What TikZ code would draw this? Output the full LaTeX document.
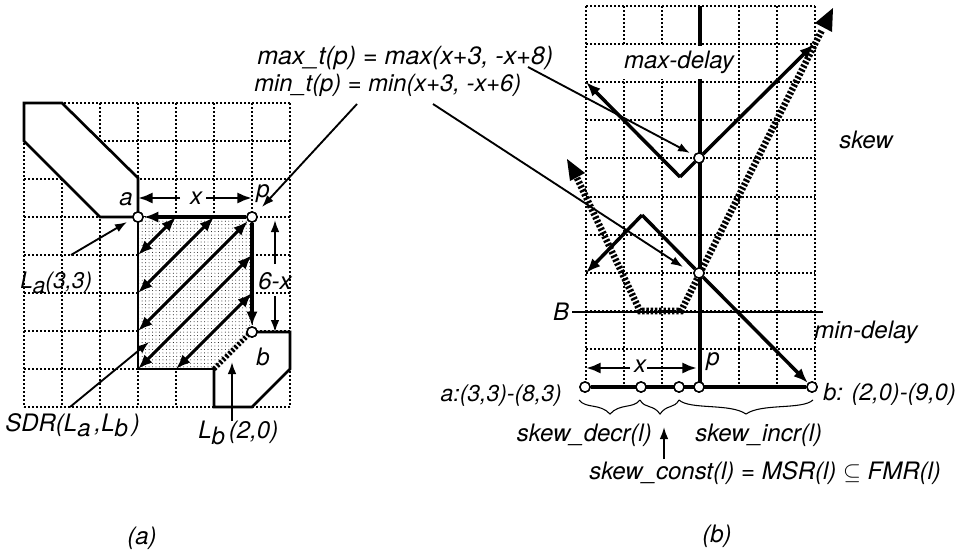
\documentclass[tikz,border=0pt]{standalone}
\usepackage{fontspec}
\setmainfont{TeX Gyre Heros}
\usetikzlibrary{arrows.meta,patterns.meta}
\newcommand{\lowsub}[1]{\raisebox{-4pt}{#1}\,}
\tikzset{
  x=0.75pt,y=-0.75pt,
  griddot/.style={line width=1.5pt,dash pattern=on 1.3pt off 1.7pt,black},
  lbl/.style={font=\fontsize{18}{21}\selectfont\itshape,inner sep=0pt,text=black},
  heavy/.style={line width=2pt},
  thick line/.style={line width=3.4pt},
  dbl/.style={line width=2.2pt,{Latex[length=11pt,width=8.5pt]}-{Latex[length=11pt,width=8.5pt]}},
  sgl/.style={line width=2.2pt,-{Latex[length=11pt,width=8.5pt]}},
  thin arrow/.style={line width=1.4pt,-{Latex[length=9pt,width=6.5pt]}},
  hatch/.style={line width=5pt,dash pattern=on 1.8pt off 1.4pt},
  dotnode/.style={circle,draw=black,fill=white,line width=1.1pt,minimum size=7.6pt,inner sep=0pt},
}
\begin{document}
\begin{tikzpicture}
\useasboundingbox (0,0) rectangle (962,554);
% ---------- left grid
\foreach \i in {0,...,7} \draw[griddot] ({24+38*\i},103) -- ({24+38*\i},407);
\foreach \j in {0,...,8} \draw[griddot] (24,{103+38*\j}) -- (290,{103+38*\j});
% La polygon
\draw[fill=white,heavy] (24,141) -- (24,103) -- (62,103) -- (138,178) -- (138,217) -- (100,217) -- cycle;
% Lb polygon
\draw[fill=white,heavy] (252,332) -- (290,332) -- (290,369) -- (252,407) -- (214,407) -- (214,369);
% SDR region
\fill[white] (138,217) -- (252,217) -- (252,332) -- (214,369) -- (138,369) -- cycle;
\fill[pattern={Dots[distance=2.6pt,radius=0.36pt]},pattern color=black] (138,217) -- (252,217) -- (252,332) -- (214,369) -- (138,369) -- cycle;
\draw[heavy] (138,217) -- (138,369) -- (214,369);
\draw[hatch,line width=3.8pt] (214,369) -- (250,333);
% coordinates
\node[dotnode] (a) at (138,217) {};
\node[dotnode] (p) at (252,217) {};
\node[dotnode] (b) at (252,332) {};
\coordinate (a1) at (176,217); \coordinate (l1) at (138,255);
\coordinate (a2) at (214,217); \coordinate (l2) at (138,293);
\coordinate (l3) at (138,331);
\coordinate (r1) at (252,255); \coordinate (l4) at (138,369);
\coordinate (r2) at (252,293); \coordinate (l5) at (176,369);
\draw[dbl] (a1) -- (l1);
\draw[dbl] (a2) -- (l2);
\draw[dbl] (p) -- (l3);
\draw[dbl] (r1) -- (l4);
\draw[dbl] (r2) -- (l5);
\draw[sgl,line width=2.6pt] (p) -- (a);
\draw[sgl,line width=2.6pt] (p) -- (b);
\node[dotnode] at (a) {};
\node[dotnode] at (p) {};
\node[dotnode] at (b) {};
% x / 6-x
\node[lbl] (xa) at (196,198) {x};
\coordinate (ax) at (138,198); \coordinate (px) at (252,198);
\draw[sgl] (180,198) -- (ax);
\draw[sgl] (206,198) -- (px);
\node[lbl] (sx) at (275,281) {6-x};
\coordinate (sxt) at (275,220); \coordinate (sxb) at (275,332);
\draw[thin arrow] (275,264) -- (sxt);
\draw[thin arrow] (275,296) -- (sxb);
\node[lbl] (la) at (126,199) {a};
\node[lbl] (lp) at (263,194) {p};
\node[lbl] (lb) at (263,357) {b};
% La label
\node[lbl,anchor=west,font=\fontsize{17}{20}\selectfont\itshape] (Lal) at (20,283) {L\raisebox{-4pt}{a}(3,3)};
\coordinate (Las) at (71,255); \coordinate (Lat) at (127,222);
\draw[thin arrow] (Las) -- (Lat);
\node[lbl,anchor=west] (SDRl) at (5,425) {SDR(L\lowsub{a},L\lowsub{b})};
\coordinate (SDs) at (70,407); \coordinate (SDt) at (149,342);
\draw[thin arrow] (SDs) -- (SDt);
\node[lbl,anchor=west] (Lbl) at (198,433) {L\lowsub{b}(2,0)};
\coordinate (Lbs) at (232,421); \coordinate (Lbt) at (232,362);
\draw[thin arrow] (Lbs) -- (Lbt);
\node[lbl] (capa) at (142,538) {(a)};
% formula labels
\node[lbl,anchor=west,font=\fontsize{18.8}{21}\selectfont\itshape] (maxf) at (257,58) {max\_t(p) = max(x+3, -x+8)};
\node[lbl,anchor=west,font=\fontsize{17.8}{21}\selectfont\itshape] (minf) at (254,85) {min\_t(p) = min(x+3, -x+6)};
% ---------- right grid
\foreach \i in {0,...,6} \draw[griddot] ({586+38.2*\i},6) -- ({586+38.2*\i},387);
\foreach \j in {0,...,9} \draw[griddot] (586,{6+38.1*\j}) -- (815,{6+38.1*\j});
\draw[thick line] (700,6) -- (700,387);
\fill[white] (590,46) rectangle (735,79);
\node[lbl] (maxd) at (679,62) {max-delay};
% B line
\node[lbl] (Bl) at (561,312) {B};
\coordinate (Be) at (823,312);
\draw[line width=0.8pt] (572,312) -- (Be);
% hatched skew curve
\coordinate (hl) at (567,159); \coordinate (hr) at (833,8);
\draw[hatch] (577,178) -- (640,311) -- (681,311) -- (822,30);
\fill (567,159) -- (585,173) -- (570,181) -- cycle;
\fill (833,8) -- (832,32) -- (815,23) -- cycle;
% delay curves
\node[dotnode] (pm) at (699,158) {};
\node[dotnode] (pn) at (699,273) {};
\coordinate (mxl) at (586,82); \coordinate (mxr) at (814,44);
\coordinate (mnl) at (586,273);
\node[dotnode] (n1) at (585,387) {};
\node[dotnode] (n2) at (641,387) {};
\node[dotnode] (n3) at (679,387) {};
\node[dotnode] (n4) at (699,387) {};
\node[dotnode] (n5) at (812,387) {};
\draw[sgl,line width=2.6pt] (680,177) -- (mxl);
\draw[line width=2.6pt] (pm) -- (680,177);
\draw[sgl,line width=2.6pt] (pm) -- (mxr);
\draw[sgl,line width=2.6pt] (642,215) -- (mnl);
\draw[line width=2.6pt] (pn) -- (642,215);
\draw[sgl,line width=2.6pt] (pn) -- (n5);
\draw[thick line] (n1) -- (n5);
\foreach \n in {pm,pn,n1,n2,n3,n4,n5} \node[dotnode] at (\n) {};
% leaders
\coordinate (ls1) at (528,67); \coordinate (ls2) at (433,104); \coordinate (ls3) at (357,104);
\draw[thin arrow] (ls1) -- (690,153);
\draw[thin arrow] (ls2) -- (683,267);
\draw[thin arrow] (ls3) -- (262,207);
% x in b
\node[lbl] (xb) at (640,366) {x};
\coordinate (xbl) at (586,368); \coordinate (xbr) at (697,368);
\draw[sgl] (630,368) -- (xbl);
\draw[sgl] (647,368) -- (xbr);
\node[lbl] (pb) at (713,362) {p};
\node[lbl,anchor=east,font=\fontsize{17.2}{20}\selectfont\itshape] (al) at (562,396) {a:(3,3)-(8,3)};
\node[lbl,anchor=west,font=\fontsize{17.6}{21}\selectfont\itshape] (bl2) at (823,394) {b: (2,0)-(9,0)};
% braces
\draw[line width=0.8pt] (579,400) .. controls (586,409) and (600,403) .. (610,414) .. controls (620,403) and (633,409) .. (640,400);
\draw[line width=0.8pt] (640,400) .. controls (645,409) and (653,404) .. (660,414) .. controls (667,404) and (674,409) .. (679,400);
\draw[line width=0.8pt] (679,400) .. controls (690,410) and (730,403) .. (746,414) .. controls (762,403) and (802,410) .. (813,400);
\node[lbl,anchor=east] (sd) at (652,435) {skew\_decr(l)};
\node[lbl,anchor=west] (si) at (695,435) {skew\_incr(l)};
\node[lbl,anchor=west] (sc) at (589,473) {skew\_const(l) = MSR(l) $\subseteq$ FMR(l)};
\coordinate (sct) at (664,427); \coordinate (scs) at (664,459);
\draw[thin arrow] (scs) -- (sct);
\node[lbl] (sk) at (866,140) {skew};
\node[lbl] (mind) at (866,332) {min-delay};
\node[lbl] (capb) at (717,536) {(b)};
\end{tikzpicture}
\end{document}
